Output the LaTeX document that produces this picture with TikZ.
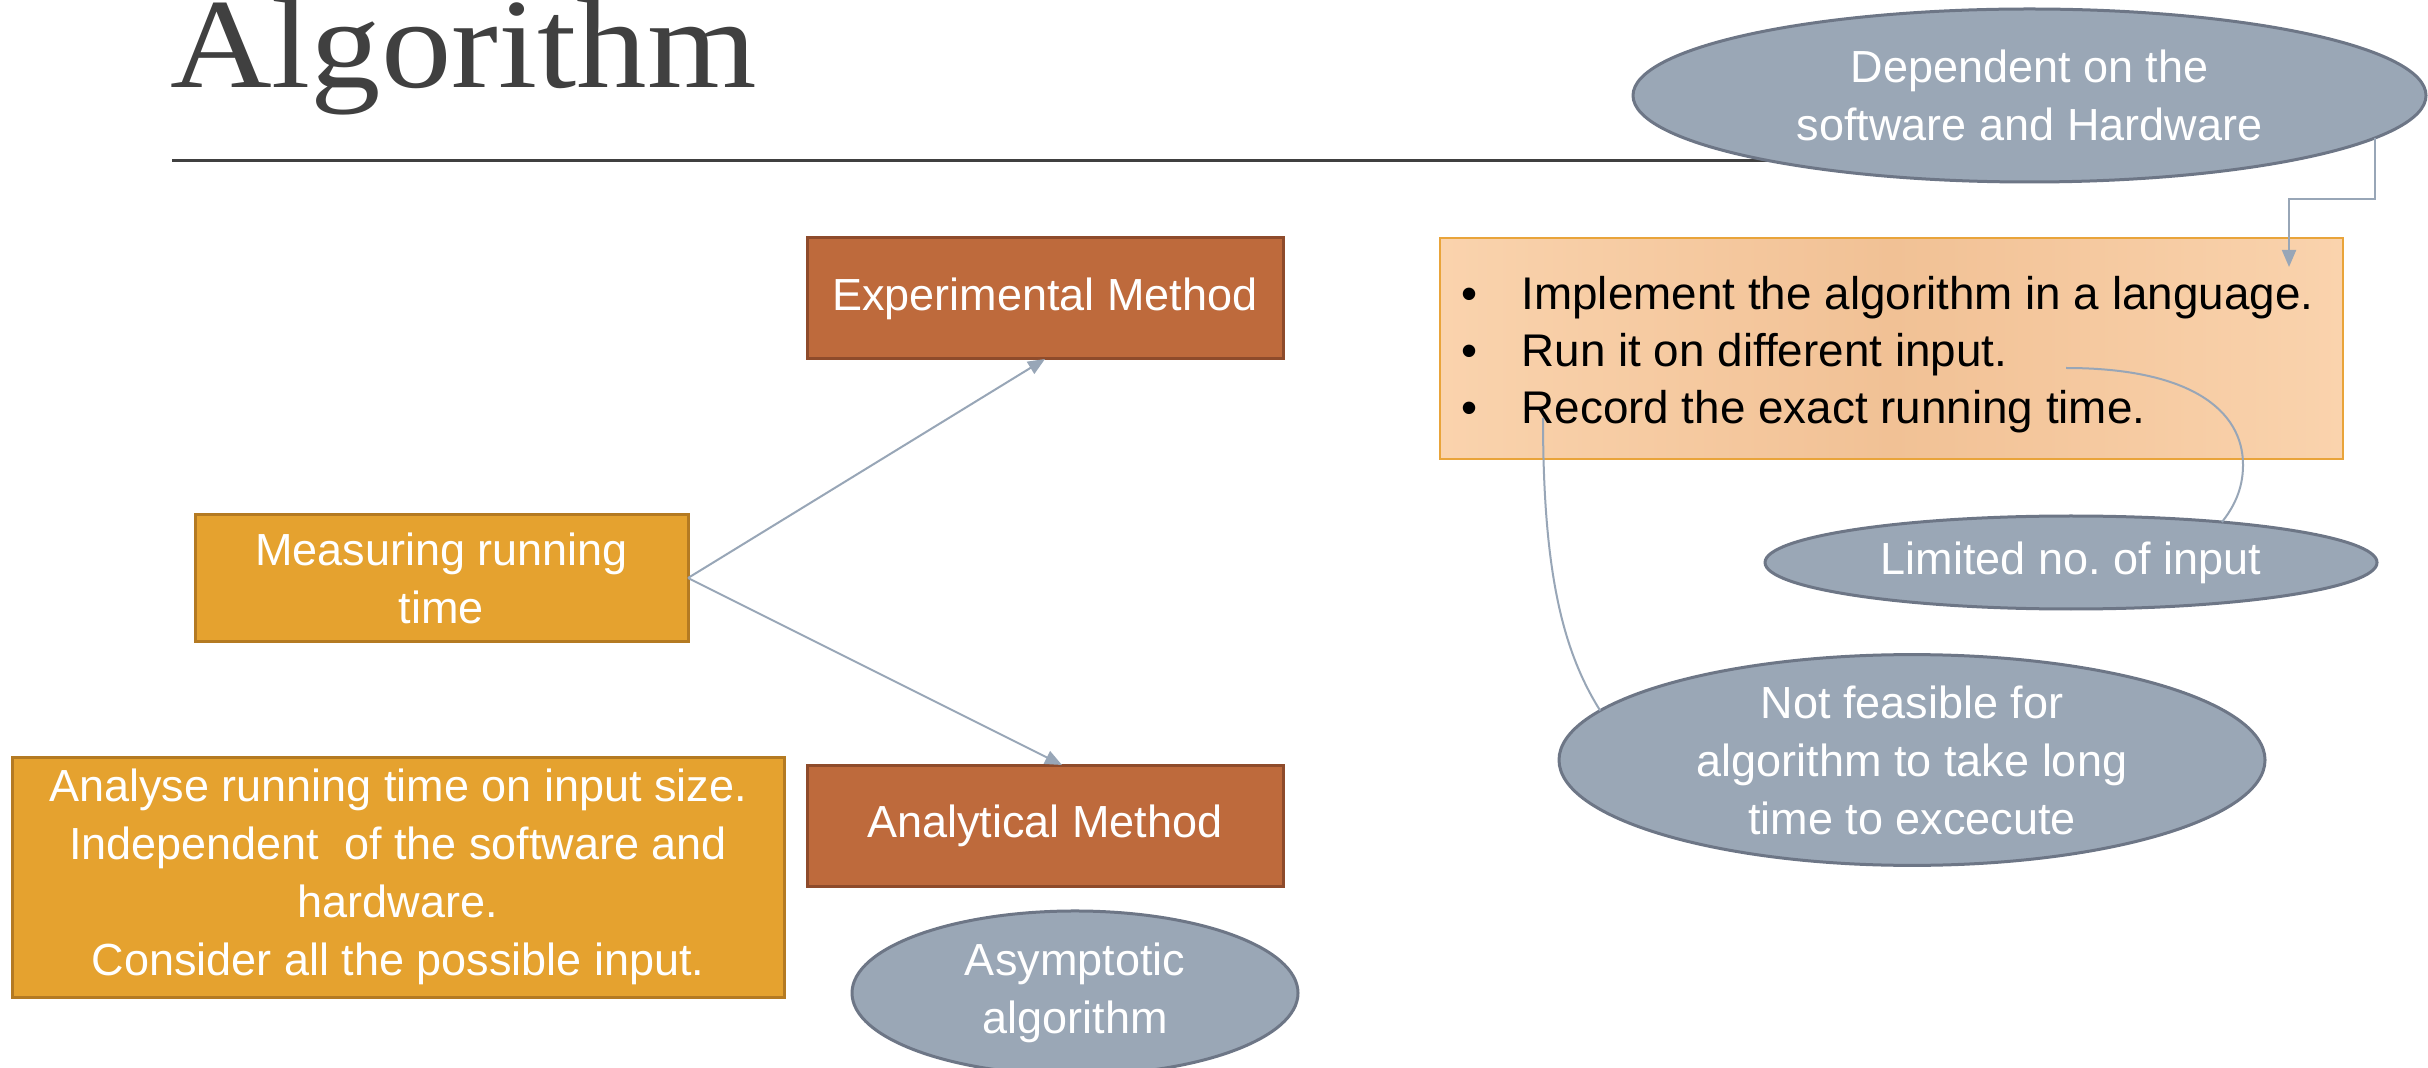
\documentclass[tikz,border=0pt]{standalone}
\usepackage{fontspec}
\setmainfont{Liberation Sans}
\newfontfamily\titlefont{Liberation Serif}
\usetikzlibrary{shapes.geometric,arrows.meta,calc}

\definecolor{titlegray}{HTML}{404040}
\definecolor{goldfill}{HTML}{E5A22F}
\definecolor{golddraw}{HTML}{B47A22}
\definecolor{rustfill}{HTML}{BE6A3C}
\definecolor{rustdraw}{HTML}{8E4B2B}
\definecolor{ovalfill}{HTML}{9AA7B6}
\definecolor{ovaldraw}{HTML}{6D7686}
\definecolor{peachedge}{HTML}{FAD3AD}
\definecolor{peachmid}{HTML}{F1C195}
\definecolor{peachdraw}{HTML}{E9A43A}
\definecolor{linkgray}{HTML}{98A6B7}

\frenchspacing
\begin{document}
\begin{tikzpicture}[x=0.5pt,y=-0.5pt,
  every node/.style={inner sep=0pt, outer sep=0pt},
  bodytext/.style={font=\fontsize{22.5pt}{29pt}\selectfont, align=center, text=white},
  goldbox/.style={bodytext, draw=golddraw, fill=goldfill, line width=1.5pt},
  rustbox/.style={bodytext, draw=rustdraw, fill=rustfill, line width=1.5pt,
                  minimum width=238pt, minimum height=60.5pt},
  greyoval/.style={bodytext, ellipse, draw=ovaldraw, fill=ovalfill, line width=1.5pt},
  link/.style={draw=linkgray, line width=1pt},
  linkarrow/.style={link, -{Triangle[length=8.5pt,width=7pt]}},
]
% page area
\path[use as bounding box, fill=white] (0,0) rectangle (2428,1068);

% heading and rule
\node[anchor=base west, text=titlegray,
      font=\titlefont\fontsize{64pt}{64pt}\selectfont] (title) at (170,88)
      {\scalebox{1.1}[1]{Algorithm}};
\coordinate (ruleL) at (172,161);
\coordinate (ruleR) at (2000,161);
\draw[titlegray, line width=1.5pt] (ruleL) -- (ruleR);

% ovals
\node[greyoval, minimum width=396.5pt, minimum height=86.5pt] (dep) at (2029.5,95.5)
      {Dependent on the\\software and Hardware};
\node[greyoval, minimum width=306pt, minimum height=46.5pt] (lim) at (2071,562.5)
      {Limited no. of input};
\node[greyoval, minimum width=353pt, minimum height=95pt] (nf) at (1912,760)
      {Not feasible for\\algorithm to take long\\time to excecute};
\node[greyoval, minimum width=223pt, minimum height=79pt] (asym) at (1075,993)
      {\raisebox{-7pt}{\begin{tabular}{@{}c@{}}Asymptotic\\algorithm\end{tabular}}};

% boxes
\node[rustbox] (exp) at (1045,298.5) {Experimental Method};
\node[rustbox] (ana) at (1045,825.5) {Analytical Method};
\node[goldbox, minimum width=246.5pt, minimum height=63pt] (meas) at (441.5,578)
      {Measuring running\\time};
\node[goldbox, minimum width=386pt, minimum height=120pt] (analyse) at (398,877)
      {Analyse running time on input size.\\Independent\ \ of the software and\\hardware.\\Consider all the possible input.};

% bullet list box
\node[draw=peachdraw, line width=1pt, left color=peachedge, right color=peachedge,
      middle color=peachmid, minimum width=451.5pt, minimum height=110.5pt] (bul)
      at (1891.5,348.5) {};
\node[anchor=base west, font=\fontsize{22.9pt}{28.5pt}\selectfont, text=black] (bultxt)
      at (1461,310)
      {\begin{tabular}[t]{@{}l@{\hspace{22.3pt}}l@{}}
       \textbullet & Implement the algorithm in a language.\\
       \textbullet & Run it on different input.\\
       \textbullet & Record the exact running time.
       \end{tabular}};

% connectors
\draw[linkarrow] (meas.east) -- (exp.south);
\draw[linkarrow] (meas.east) -- ([xshift=8.5pt]ana.north);

\coordinate (bendA) at (2289,199);
\coordinate (tipA) at (2289,267);
\draw[linkarrow] (dep.-7) |- (bendA) -- (tipA);

\coordinate (runEnd) at (2066,368);
\draw[link] (runEnd) .. controls (2190,368) and (2243,410) .. (2243,465)
            .. controls (2243,490) and (2233,508) .. (lim.15);

\coordinate (recEnd) at (1543,418);
\draw[link] (recEnd) .. controls (1543,570) and (1562,650) .. (nf.171);
\end{tikzpicture}
\end{document}
